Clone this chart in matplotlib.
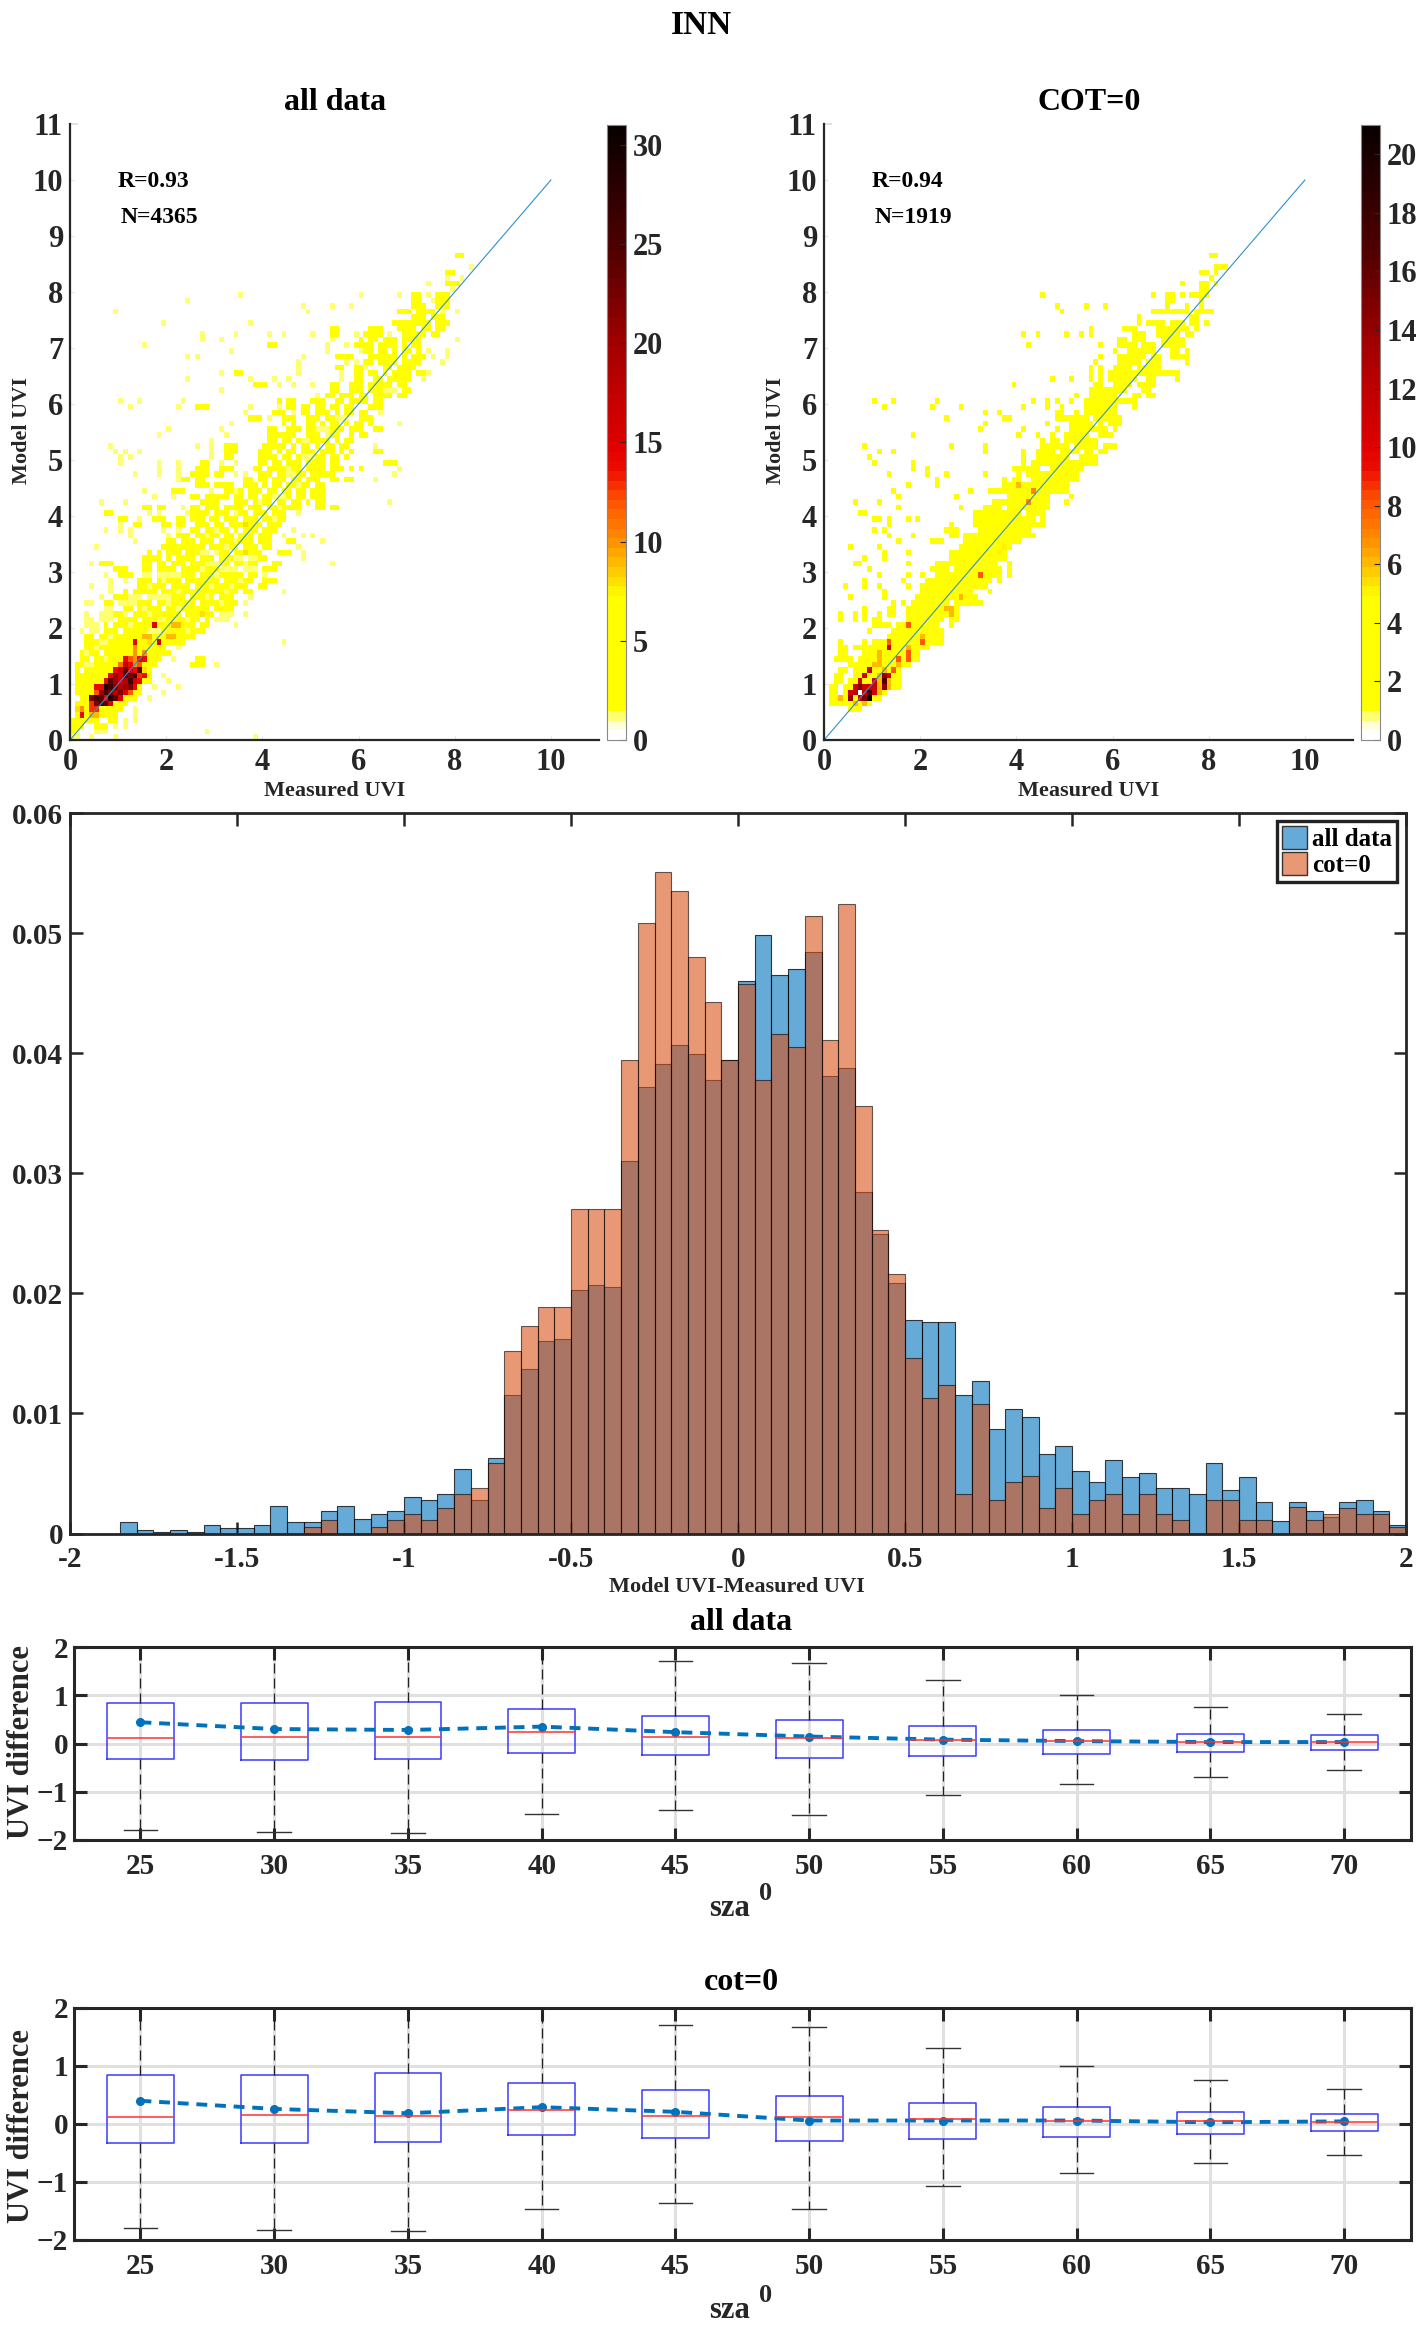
import numpy as np
import matplotlib
matplotlib.use('Agg')
import matplotlib.pyplot as plt
from matplotlib.colors import LinearSegmentedColormap
from matplotlib.patches import Patch

W, H = 1425, 2329
plt.rcParams['font.family'] = ['Liberation Serif', 'DejaVu Serif']
plt.rcParams['font.weight'] = 'bold'

# 2d histogram cells, one string per 0.1 bin of model UVI (bottom row first).
# token = column (measured UVI * 10) or range of columns, ":n" = count, later tokens win
rows_all = [
    "0-1:1 4 9 38",
    "0:2 1:1 5-7:1 28",
    "0-2 4:0 5-7 9 11",
    "0-5:3 8-9 11 13",
    "1:4 2:14 3:4 4-5:9 6-9:3 13",
    "1:8 2:10 3:4 4-5:13 6-9:4 10:2 13",
    "1-2:3 3:4 4:13 5:22 6:26 7:24 8:15 9-11:4",
    "2-3:3 4:22 5:26 6:24 7:15 8:30 9:24 10:15 11-13:4 16",
    "1-4:3 5:12 6:20 7:26 8:22 9:18 10:22 11:15 12:12 13-14:3 19",
    "1-4:3 5-6:14 7:30 8:26 9:22 10:18 11:20 12:22 13:14 14:4 17 22",
    "1-6:3 7:14 8:24 9:20 10:16 11:18 12:26 13:16 14:14 15-16:4 20",
    "1-7:3 8:14 9:20 10:16 11:24 12:22 13:26 14:13 15:14 16:4 19",
    "1-8:3 9:14 10:16 11:24 12:15 13:14 14:24 15:8 16:3 2:0",
    "1-9:3 10:11 11:16 12:14 13:10 14:12 15:6 16-17:3 25-27 30 3-4:1",
    "2-10:3 11:14 12:12 13:10 14:14 15:14 16-18:3 21 26-27 4:0 7:1",
    "2-12:3 13:10 14:3 15:10 16-20:3 3:1 6:0",
    "2-12:3 13:10 14-19:3 22 5:1 2:0",
    "3-12:3 13:15 14-15:4 16:8 17:3 18:16 19-23:3 44 6-7:1",
    "3-14:3 15-16:9 17-19:3 20-21:9 22-25:3 5:0 8:1",
    "2-5:1 7-15:3 16-18:1 19-27:3 3:0 10:0 24:1",
    "3-5:1 7-16:2 17:15 18-20:3 21-22:9 23-28:3 34 12:1 8:0 26:0",
    "3-4:1 6-8:1 10-28 30-32:1 14:0 18:1 19:1 24:1 27:0",
    "3 6-8:1 9-26 27:8 28-29 31-33:1 36 11:1 12:0 16:1 23:0",
    "7-8:1 11-24 25:6 26-33 13:0 15:1 19:0 22:1 29:0",
    "3-4:1 7-8 10-13:1 14-34 36 17:0 20:1 26:0 31:1",
    "6 9-11 12-20:1 21-33 37 15:0 24:0 28:1 30:0",
    "8 11-14 15-27 28:6 29-34 36-37 44 12:0 18:0 22:1 32:1",
    "4 8 14-28 29:1 30:7 31-36 39-40 16:1 20:0 25:0 33:1",
    "8 11 14-37 40-42 17:0 19:1 23:0 31:0 35:1",
    "7 10-12 15-22:1 23-38 40 17:0 26:0 30:1 36:0",
    "9-11 15-19 20-30 31-38:1 40-42 17:0 22:0 27:1 35:0",
    "4 6-8 15-16 18-27 28-30:1 31-38 42-43 54 20:0 24:0 33:0 36:1",
    "15-17 18-20 22-33 34-38:1 39-40 48 19:0 26:0 30:0 36:0",
    "16-18 20-26 27-30:1 31-35 36:8 37-39 43-45 48 17:0 23:0 29:0 33:0",
    "5 19-21 22-24 25-41 47 28:0 32:1 35:0 39:0",
    "13 20-21 23-41 45-46 52 26:0 30:0 34:1 38:0",
    "12 20 22-24 26-33 35-41 44 48 50 28:1 31:0 38:0",
    "7 10 12 19 22 25-34 36-42 46 27:0 30:1 33:0 39:0",
    "10 13-14 19-20 22-23 26-31 33-35 36:8 37-43 29:0 40:0",
    "10-11 14 17-19 22-23 25-30 32-38 40-44 28:0 35:0 42:1",
    "7-8 16 18 24 25-28 30-36 38-44 47 33:0 41:0 34:1",
    "15-19 23 25-26 28-35 37-47 51-55 17:0 31:0 40:0 43:1 53:0",
    "6 11 27-30 34-41 43-47 49-52 66 37:0 39:1 45:0 50:0",
    "17 21 25-30 31-35 37-41 42-44:1 45-48 50-52 27:0 33:0 39:0 46:0",
    "15 21-23 29 32-35 37-42 44-48 50-52 40:0 46:0 34:1",
    "26-28 30-33 36-40 42-49 51-52 39:0 44:0 47:1",
    "22 23-27 36-44 46-51 54-58 63 25:0 38:0 41:0 48:0 56:0",
    "13 18 22 25-28 30-31 34 36 39-44 45-46:1 47-52 53-54 67 42:0 49:0",
    "18 22 26-28 31-33 38-44 46-50 51-60 68 40:0 45:1 48:0 53:0 57:0 59:0",
    "10 18 22 27-28 31 34 39-43 45-51 52-55 65-67 41:0 48:0 53:0",
    "10 12 29 32-33 39-42 44-47 48-50:1 51-52 54-57 46:0 56:0",
    "9 11 14 29 32-34 39-46 48-50 52-58 63-64 42:0 44:0 55:0 57:0",
    "8 26 29 32-34 40-42 43-46 48-51 53-57 63 45:0 50:0 55:0",
    "29 41-42 44-47 48-49:1 50-52 53-58 46:0 54:0 56:0",
    "18 32 41-43 44-46 49-55 58-61 52:0 53:1 59:0",
    "20 31 41-42 45-46 47-50 51-53:1 54-56 58-60 63-64 48:0",
    "33 44-46 49-52 54-57 59-62 68 45:0 51:0 56:0 61:0",
    "37-39 41 44-46 49-54 55-57:1 60-62 52:0",
    "36 42-44 46 48-53 55-58 60-61 64 50:0 56:0",
    "12 22 26-28 37 43 45-46 48-52 54-58 62-64 50:0 56:0",
    "10 14 23 43-46 50-52 55-59 60-64 44:0 57:0 62:0",
    "51 53-58 60-64 65-69 55:0 62:0 67:0",
    "31 54-55 58-60 62-64 65-67:1 69-70",
    "38-40 43 46 50 54-55 58-64 65-69 61:0 67:0",
    "24 37 42 45 56 59-60 63-67 68-70 73 65:0",
    "31 34-35 47 56 59-60 62-68 69-73 74 64:0 66:0 71:0",
    "47 55-56 59-60 61 65-69 69-71 67:0",
    "47 57 59 61-64 65-70 71-72 77 63:0 68:0",
    "24 26 48 55-58 62-65 66-67 69-73 75 78 70:0",
    "33 53 60 61-62 64-67 69-72 74 78 66:0 71:0",
    "15 41-42 53 57 59-60 61-62 64-67 69-72 70:0",
    "27 31 54 60-63 65-67 69-72 80 61:0",
    "27 34 41 44 50 54-55 59 61-64 66 69-70 71-73 75-76",
    "54-55 62-64 68-70 71-74 76-77 72:0",
    "19 37 67-69 70-74 76-78",
    "71-77 74:0",
    "9 49 68-70 72-75 77 80",
    "48 54 58 71-73 76-78",
    "24 71-72 75 76-78",
    "35 60 68 71-72 74 76-78",
    "79",
    "74 78-80",
    "78 81",
    "78-79",
    "83",
    "",
    "80-81",
]

rows_cot = [
    "", "", "", "", "",
    "5-7",
    "1-5 6:6 7-8 8:6 9",
    "1-3 3:6 4 5:14 6 7:11 8:15 9:21 10-11",
    "1-2 4 5:11 6:12 8:11 9:17 10:11 11:6 12",
    "1-2 4-5 6:11 7:15 8-9:11 10:11 11:6 12:14 13:6 14-15",
    "2-3 5-6 7:11 8-9 10:11 11:6 12:17 13:6 14-15",
    "2-3 6-7 8:11 9-10 11:6 12:14 13:11 14-15",
    "3-4 6-8 9:11 10-11 12:6 13 14:8 15",
    "5-9 10-11:6 12-14 15:6 16-17",
    "2-5 7-10 11:6 12-14 15:8 16 17:8 18-19",
    "3-4 8-10 11:6 12-14 15:2 16 17:8 18-19",
    "3-4 6-10 11-12 13:11 14-16 17:6 18-21",
    "3 8 10-12 13:8 14-19 20:8 21-24",
    "13-19 20:6 21-24",
    "9 14-24",
    "10-13 15-16 17:8 18-23 26",
    "3 6 8 10-11 17-24 26-27",
    "3 6 8 11 13-14 17-25 26:6 27",
    "8 13-14 17-24 25-26:6 27",
    "14 16 18-25 27-32",
    "5 12 19-27 28:6 29-31",
    "12 20-30 34",
    "4 8 11 17 20-33",
    "8 16 21-34 36",
    "11 17 20 23-31 32:8 33-36 38",
    "9 22-25 27-36 38",
    "6-7 17 23-35 38",
    "8 12 26-37",
    "12 17 26-35 36:5 37",
    "5 11 28-36 37:5 38",
    "15 22-24 29-40",
    "13 18 26-27 29-43",
    "10 12 25-27 32-42",
    "13 26 31-45",
    "10-11 13 17 19 31-43 45",
    "7-8 31-40 42-45",
    "15 28 33-36 38-46",
    "6 11 35-37 38-41 42:7 43-46 50",
    "15 27 38-46 51",
    "14 30 34-40 41-42 43:7 44-50",
    "17 23 37-39 40:6 41-50",
    "23 37 39-40 43-52",
    "13 21 25 33 40 42-47 48-52",
    "18 21 39-41 42-44 47-53",
    "10 18 41 43-50 51-56",
    "9 41 44-50 53-56",
    "11 14 33 41 44-47 49-52 54-55 57-58",
    "8 26 33 45-50 52-55 56 58-60",
    "45 47-48 50-55 56",
    "18 40 44 47 50-54 57-58 59",
    "32 41 48 51-56 57-58 60",
    "33 46 51-55 57 59-61",
    "25 37-38 48-54 56-58 59-61",
    "33 36 48-49 52 54-60",
    "12 22 28 41 46 49 54-60 64",
    "10 14 23 43 46 48 51 54-61 62-64",
    "52 55-60 64-65 67-68",
    "55-59 60-62 66-67",
    "39 56-57 60-63 65-68",
    "47 51 55 57 59-64 67-68 73",
    "55 57 59-60 61-65 66-73",
    "55 57 60-63 65-69",
    "56 61-65 67-69 75",
    "57 61-66 68-69 72-74 75",
    "60 63-67 68 72-73 75",
    "42 57 61-64 66-68 70-74",
    "61-62 64-66 70-74",
    "41 44 50 53 55 64-66 69-73 75-76",
    "55 62-64 69-70 71-75 77",
    "65 67-69 70 72-74 76-77 79",
    "65 76-77",
    "49 68-75 77-79 80",
    "48 54 58 71 75 78",
    "71-72 78",
    "45 68 71-72 74 76-79",
    "78-79",
    "74 78-79 81",
    "80",
    "78-79 81",
    "81-82 83",
    "",
    "80-81",
]

# histogram of model - measured, 0.05 wide bins from -2 to 2
hist_edges = np.linspace(-2, 2, 81)
hist_all = [
    0, 0, 0, .00095, .0003, .0001, .0003, .0001, .0007, .00047,
    .00047, .0007, .0023, .00095, .00095, .0019, .0023, .0012, .0016, .0019,
    .003, .0028, .0033, .0054, .0028, .0063, .0115, .0137, .016, .0162,
    .0203, .0207, .0205, .031, .0372, .0391, .0407, .0399, .0378, .0394,
    .046, .0498, .0465, .047, .0484, .0381, .0388, .0284, .0249, .0209,
    .0178, .0176, .0176, .0115, .0127, .0087, .0104, .0097, .0066, .0073,
    .0052, .0043, .0061, .0047, .005, .0038, .0038, .0033, .0059, .0036,
    .0047, .0026, .001, .0026, .0019, .0014, .0026, .0028, .0019, .0007,
]
hist_cot = [
    0, 0, 0, 0, 0, 0, 0, 0, 0, 0,
    0, 0, 0, 0, .00055, .0011, 0, 0, .00055, .0011,
    .0016, .0011, .0021, .0033, .0038, .0059, .0152, .0173, .0189, .0189,
    .027, .027, .027, .0394, .0508, .0551, .0535, .048, .0443, .0394,
    .0458, .0378, .0416, .0405, .0514, .0411, .0524, .0356, .0253, .0216,
    .0146, .0113, .0124, .0033, .0108, .0028, .0043, .0048, .0021, .0038,
    .0016, .0028, .0033, .0016, .0033, .0016, .0011, 0, .0028, .0028,
    .0011, .0011, 0, .0022, .0011, .0016, .0021, .0016, .0016, .0005,
]

# boxes by solar zenith angle
sza = [25, 30, 35, 40, 45, 50, 55, 60, 65, 70]
q1_all = [-0.33, -0.34, -0.32, -0.19, -0.24, -0.30, -0.26, -0.22, -0.17, -0.125]
q3_all = [0.84, 0.84, 0.87, 0.71, 0.58, 0.49, 0.36, 0.29, 0.20, 0.17]
med_all = [0.11, 0.14, 0.125, 0.23, 0.14, 0.12, 0.08, 0.05, 0.04, 0.03]
low_all = [-1.79, -1.83, -1.855, -1.47, -1.38, -1.48, -1.07, -0.84, -0.685, -0.55]
high_all = [2.3, 2.3, 2.3, 2.3, 1.71, 1.66, 1.31, 1.0, 0.755, 0.61]
mean_all = [0.44, 0.30, 0.28, 0.35, 0.235, 0.145, 0.08, 0.05, 0.03, 0.03]

q1_cot = [-0.33, -0.33, -0.315, -0.19, -0.235, -0.30, -0.26, -0.22, -0.165, -0.12]
q3_cot = [0.84, 0.84, 0.88, 0.71, 0.59, 0.49, 0.37, 0.30, 0.21, 0.18]
med_cot = [0.12, 0.15, 0.13, 0.235, 0.14, 0.12, 0.09, 0.06, 0.045, 0.03]
low_cot = [-1.785, -1.825, -1.85, -1.46, -1.37, -1.47, -1.07, -0.84, -0.68, -0.535]
high_cot = [2.3, 2.3, 2.3, 2.3, 1.705, 1.665, 1.31, 1.0, 0.76, 0.61]
mean_cot = [0.40, 0.26, 0.185, 0.29, 0.21, 0.06, 0.06, 0.06, 0.03, 0.045]

hotcmap = LinearSegmentedColormap.from_list('hot_r2', [
    (0, '#ffffff'), (0.02, '#ffffd0'), (0.032, '#ffff70'), (0.045, '#ffff00'),
    (0.23, '#ffff00'), (0.26, '#ffd800'), (0.32, '#ff9000'), (0.39, '#ff5000'),
    (0.44, '#ee0a00'), (0.48, '#e00000'), (0.65, '#a00000'), (0.8, '#500000'),
    (1, '#0a0000')], N=64)


def px_axes(fig, x0, x1, ytop, ybot):
    return fig.add_axes([x0 / W, 1 - ybot / H, (x1 - x0) / W, (ybot - ytop) / H])


def px_text(fig, x, y, s, size, rotation=0, color='black'):
    fig.text(x / W, 1 - y / H, s, fontsize=size, ha='center', va='center',
             rotation=rotation, color=color, fontweight='bold')


def parse_rows(rows):
    grid = np.zeros((110, 110))
    for j, row in enumerate(rows):
        for tok in row.split():
            n = None
            if ':' in tok:
                tok, n = tok.split(':')
                n = int(n)
            if '-' in tok:
                a, b = tok.split('-')
                grid[j, int(a):int(b) + 1] = 2 if n is None else n
            else:
                grid[j, int(tok)] = 1 if n is None else n
    return grid


def heat_panel(fig, x0, rows, vmax, cticks, title, r_txt, n_txt):
    ax = px_axes(fig, x0, x0 + 529, 124, 740)
    edges = np.arange(111) / 10
    mesh = ax.pcolormesh(edges, edges, parse_rows(rows), cmap=hotcmap, vmin=0, vmax=vmax,
                         antialiased=False, linewidth=0)
    ax.plot([0, 10], [0, 10], color='#2f8fd0', lw=0.8)
    ax.set_xlim(0, 11)
    ax.set_ylim(0, 11)
    ax.set_xticks(range(0, 11, 2))
    ax.set_yticks(range(0, 12))
    ax.spines['top'].set_visible(False)
    ax.spines['right'].set_visible(False)
    ax.spines['left'].set_linewidth(1.6)
    ax.spines['bottom'].set_linewidth(1.6)
    ax.spines['left'].set_color('#262626')
    ax.spines['bottom'].set_color('#262626')
    ax.tick_params(direction='in', length=3, width=0.6, color='#dddddd',
                   labelsize=22, labelcolor='#262626', pad=5)
    ax.tick_params(axis='x', pad=6)
    ytick = ax.yaxis.get_major_ticks()[-1]
    ytick.tick1line.set_color('#262626')
    ytick.tick1line.set_markersize(6)
    ytick.tick1line.set_markeredgewidth(1.2)
    ax.text(1.0, 9.97, r_txt, fontsize=17, va='center', color='black')
    ax.text(1.05, 9.33, n_txt, fontsize=17, va='center', color='black')

    cax = px_axes(fig, x0 + 537, x0 + 556, 125, 740)
    cb = fig.colorbar(mesh, cax=cax)
    cb.set_ticks(cticks)
    cb.outline.set_edgecolor('#888888')
    cb.outline.set_linewidth(0.8)
    cax.tick_params(direction='in', length=4, width=0.8, color='#262626',
                    labelsize=22, labelcolor='#262626', pad=5)

    xc = x0 + 265
    px_text(fig, xc, 103, title, 23)
    px_text(fig, xc, 791, 'Measured UVI', 16, color='#262626')
    px_text(fig, x0 - 48, 431, 'Model UVI', 16, rotation=90, color='#262626')


def box_panel(fig, ytop, ybot, q1, q3, med, low, high, mean, title, title_y, sza_y, lab_y):
    ax = px_axes(fig, 73.6, 1411, ytop, ybot)
    stats = []
    for i in range(len(sza)):
        stats.append({'med': med[i], 'q1': q1[i], 'q3': q3[i], 'whislo': low[i], 'whishi': high[i], 'fliers': []})
    pos = np.arange(1, len(sza) + 1)
    ax.bxp(stats, positions=pos, widths=0.5, capwidths=0.25, showfliers=False,
           boxprops=dict(color='#3a3aff', lw=1.1),
           medianprops=dict(color='#ff3030', lw=1.1),
           whiskerprops=dict(color='#222222', lw=0.9, linestyle=(0, (8, 4))),
           capprops=dict(color='#333333', lw=1.0))
    ax.plot(pos, mean, color='#0072bd', lw=2.8, marker='o', markersize=5.5, dashes=(2.8, 2.0))
    ax.set_xlim(0.5, 10.5)
    ax.set_ylim(-2, 2)
    ax.set_xticks(pos)
    ax.set_xticklabels([str(s) for s in sza])
    ax.set_yticks([-2, -1, 0, 1, 2])
    ax.set_axisbelow(True)
    ax.grid(True, color='#e0e0e0', lw=2.2)
    ax.tick_params(direction='in', length=9, width=2.2, color='#262626', top=True, right=True,
                   labelsize=21, labelcolor='#262626')
    ax.tick_params(axis='x', pad=9)
    ax.tick_params(axis='y', pad=4)
    for s in ax.spines.values():
        s.set_linewidth(2.2)
        s.set_color('#262626')
    px_text(fig, 741, title_y, title, 23)
    px_text(fig, 730, sza_y, 'sza', 22, color='#262626')
    px_text(fig, 766, sza_y - 15, '0', 19, color='#262626')
    px_text(fig, 22, lab_y, 'UVI difference', 22, rotation=90, color='#262626')


fig = plt.figure(figsize=(W / 100, H / 100), dpi=100)
px_text(fig, 702, 26, 'INN', 24)

heat_panel(fig, 70, rows_all, 31, [0, 5, 10, 15, 20, 25, 30], 'all data', 'R=0.93', 'N=4365')
heat_panel(fig, 824, rows_cot, 21, list(range(0, 21, 2)), 'COT=0', 'R=0.94', 'N=1919')

ax = px_axes(fig, 70, 1406, 813, 1533.5)
widths = np.diff(hist_edges)
b1 = ax.bar(hist_edges[:-1], hist_all, width=widths, align='edge', color=(0, 0.447, 0.741, 0.6),
            edgecolor=(0, 0, 0, 0.75), linewidth=0.8)
b2 = ax.bar(hist_edges[:-1], hist_cot, width=widths, align='edge', color=(0.85, 0.325, 0.098, 0.6),
            edgecolor=(0, 0, 0, 0.6), linewidth=0.8)
ax.set_xlim(-2, 2)
ax.set_ylim(0, 0.06)
ax.set_xticks(np.arange(-2, 2.01, 0.5))
ax.set_xticklabels(['-2', '-1.5', '-1', '-0.5', '0', '0.5', '1', '1.5', '2'])
ax.set_yticks([0, 0.01, 0.02, 0.03, 0.04, 0.05, 0.06])
ax.set_yticklabels(['0', '0.01', '0.02', '0.03', '0.04', '0.05', '0.06'])
ax.set_axisbelow(True)
ax.tick_params(direction='in', length=9, width=1.8, color='#262626', top=True, right=True,
               labelsize=21, labelcolor='#262626')
ax.tick_params(axis='x', pad=9)
ax.tick_params(axis='y', pad=5)
for s in ax.spines.values():
    s.set_linewidth(2.0)
    s.set_color('#262626')
leg = ax.legend([Patch(facecolor=(0, 0.447, 0.741, 0.6), edgecolor='#333333'),
                 Patch(facecolor=(0.85, 0.325, 0.098, 0.6), edgecolor='#333333')],
                ['all data', 'cot=0'], loc='upper right', bbox_to_anchor=(0.9932, 0.989),
                fontsize=18, fancybox=False, framealpha=1, edgecolor='#222222',
                borderpad=0.2, labelspacing=0.02, handlelength=1.0, handleheight=1.05,
                handletextpad=0.2, borderaxespad=0)
leg.get_frame().set_linewidth(2.4)
px_text(fig, 737, 1587, 'Model UVI-Measured UVI', 16, color='#262626')

box_panel(fig, 1647, 1840, q1_all, q3_all, med_all, low_all, high_all, mean_all,
          'all data', 1622, 1909, 1742)
box_panel(fig, 2008, 2240, q1_cot, q3_cot, med_cot, low_cot, high_cot, mean_cot,
          'cot=0', 1982, 2311, 2126)

fig.savefig('out.png', dpi=100)
